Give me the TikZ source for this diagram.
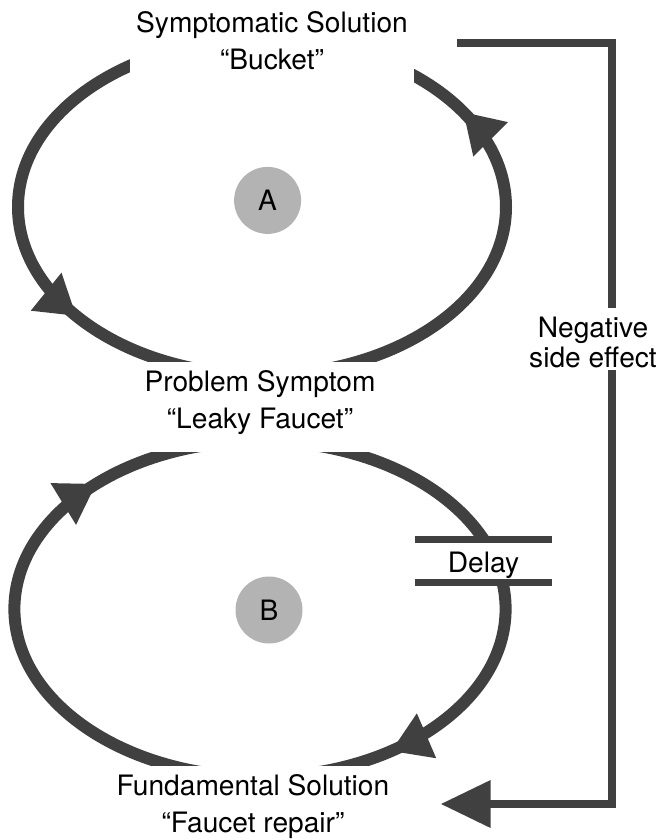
\documentclass[tikz,border=0pt]{standalone}
\usepackage{fontspec}
\setmainfont{TeX Gyre Heros}
\usepackage{xcolor}
\usetikzlibrary{arrows.meta,decorations.markings}

\definecolor{loopgray}{HTML}{404040}
\definecolor{dotgray}{HTML}{B3B3B3}

\begin{document}
\begin{tikzpicture}[
  loopline/.style={draw=loopgray, line width=0.3cm},
  tag/.style={fill=white, align=center, anchor=base, inner xsep=0.15cm, inner ysep=0pt, font=\fontsize{20}{26.3}\selectfont},
  marker/.style={circle, fill=dotgray, minimum size=1.675cm, inner sep=0pt, font=\fontsize{20}{24}\selectfont},
  delaybox/.style={fill=white, minimum width=3.425cm, minimum height=1.065cm, inner sep=0pt, text height=0.585cm, text depth=0pt, font=\fontsize{20}{24}\selectfont},
  delaybar/.style={draw=loopgray, line width=0.18cm},
  sideline/.style={draw=loopgray, line width=0.19cm},
  >={Triangle[length=0.97cm, width=1.15cm]}
]
\useasboundingbox (0,0) rectangle (16.425,-20.975);
% Loop A (symptomatic solution), counterclockwise
\draw[loopline, postaction={decorate}, decoration={markings,
    mark=at position 0.348 with {\arrow{>}},
    mark=at position 0.832 with {\arrow{>}}}]
  (6.55,-0.975) arc[start angle=90, end angle=450, x radius=6.1cm, y radius=4.2cm];
% Loop B (fundamental solution), clockwise
\draw[loopline, postaction={decorate}, decoration={markings,
    mark=at position 0.3975 with {\arrow{>}},
    mark=at position 0.8694 with {\arrow{>}}}]
  (6.5,-11.025) arc[start angle=90, end angle=-270, x radius=6.14cm, y radius=4.2cm];
% Variable labels (base = last line)
\node[tag, text height=1.775cm, text depth=0.475cm] (symp) at (6.8,-1.725) {Symptomatic Solution\\“Bucket”};
\node[tag, text height=1.65cm, text depth=0.6cm] (prob) at (6.5,-10.7) {Problem Symptom\\“Leaky Faucet”};
\node[tag, text height=1.65cm, text depth=0.25cm] (fund) at (6.325,-20.8) {Fundamental Solution\\“Faucet repair”};
% Loop markers
\node[marker] (mA) at (6.69,-5.01) {A};
\node[marker] (mB) at (6.725,-15.25) {B};
% Delay on loop B
\node[delaybox] (delay) at (12.0875,-14.025) {Delay};
\draw[delaybar] (delay.north west) -- (delay.north east);
\draw[delaybar] (delay.south west) -- (delay.south east);
% Negative side effect
\node[tag, font=\fontsize{20}{21.3}\selectfont, text height=1.475cm, text depth=0.075cm] (side) at (14.825,-9.175) {Negative\\side effect};
\coordinate (rail) at (15.3,-10);
\draw[sideline] ([xshift=1.075cm]symp.east) -| (side.north -| rail);
\draw[sideline, -{Triangle[length=1.25cm, width=1.15cm]}] (side.south -| rail) |- ([xshift=1.13cm]fund.east);
\end{tikzpicture}
\end{document}
